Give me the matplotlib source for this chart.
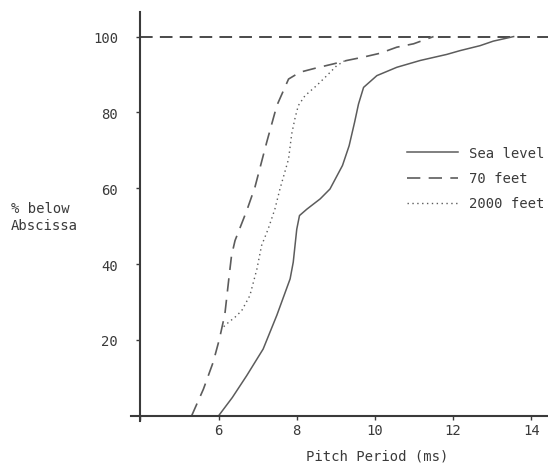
import matplotlib
matplotlib.use("Agg")
import matplotlib.pyplot as plt

# cumulative distribution of pitch period, three conditions
sea_x = [6.00, 6.35, 6.72, 7.14, 7.49, 7.83, 7.91, 8.00, 8.07, 8.26, 8.60, 8.85,
         9.17, 9.34, 9.48, 9.58, 9.71, 10.05, 10.56, 11.16, 11.84, 12.18, 12.69,
         13.03, 13.55]
sea_y = [0, 4.8, 10.6, 17.6, 26.5, 36.1, 40.5, 49.2, 52.8, 54.5, 57.2, 59.8,
         66.0, 71.2, 77.4, 82.2, 86.6, 89.7, 91.9, 93.7, 95.3, 96.3, 97.6,
         98.8, 100]

ft70_x = [5.31, 5.61, 5.86, 6.02, 6.16, 6.27, 6.33, 6.42, 6.72, 6.93, 7.23, 7.49,
          7.79, 8.08, 8.49, 8.94, 9.28, 9.71, 10.13, 10.56, 10.99, 11.50]
ft70_y = [0, 7.0, 14.1, 20.2, 26.8, 36.9, 42.2, 46.2, 54.1, 60.3, 72.1, 81.8,
          88.8, 90.6, 91.7, 92.8, 93.7, 94.6, 95.6, 97.2, 98.1, 100]

ft2000_x = [6.13, 6.25, 6.42, 6.59, 6.80, 6.98, 7.10, 7.27, 7.44, 7.57, 7.79,
            7.87, 7.96, 8.04, 8.21, 8.51, 8.77, 9.02, 9.24]
ft2000_y = [23.5, 24.6, 26.0, 27.7, 31.7, 38.7, 44.9, 49.3, 54.5, 59.8, 67.7,
            74.3, 78.7, 81.8, 84.4, 87.1, 89.7, 92.3, 93.7]

full = 100
xticks = [4, 6, 8, 10, 12, 14]
xtick_labels = ["", "6", "8", "10", "12", "14"]
yticks = [20, 40, 60, 80, 100]

plt.rcParams["font.family"] = "DejaVu Sans Mono"
ink = "#3a3a3a"
curve = "#5c5c5c"

fig = plt.figure(figsize=(5.48, 4.64), dpi=100)
ax = fig.add_axes([0.2385, 0.0912, 0.7615, 0.8801])
ax.set_xlim(3.75, 14.43)
ax.set_ylim(-1.3, 106.4)

ax.hlines(full, 4, 14.43, color=ink, lw=1.3, linestyle=(0, (7, 4)))
ax.plot(sea_x, sea_y, color=curve, lw=1.1, label="Sea level")
ax.plot(ft70_x, ft70_y, color=curve, lw=1.2, linestyle=(0, (8, 5)), label="70 feet")
ax.plot(ft2000_x, ft2000_y, color=curve, lw=1.0, linestyle=(0, (1, 2.5)),
        label="2000 feet")

for side in ("top", "right"):
    ax.spines[side].set_visible(False)
ax.spines["left"].set_position(("data", 4))
ax.spines["bottom"].set_position(("data", 0))
for side in ("left", "bottom"):
    ax.spines[side].set_color(ink)
    ax.spines[side].set_linewidth(1.5)

ax.set_xticks(xticks)
ax.set_xticklabels(xtick_labels)
ax.set_yticks(yticks)
ax.tick_params(axis="x", direction="out", length=3, width=1, color=ink,
               labelsize=10, labelcolor=ink, pad=2)
ax.tick_params(axis="y", direction="out", length=3, width=1, color=ink,
               labelsize=10, labelcolor=ink, pad=13)

ax.set_xlabel("Pitch Period (ms)", fontsize=10, color=ink, va="center")
ax.xaxis.set_label_coords(0.59, -0.086)
ax.set_ylabel("% below\nAbscissa", fontsize=10, color=ink, rotation=0,
              ha="left", va="center", linespacing=1.25)
ax.yaxis.set_label_coords(-0.288, 0.5)

ax.legend(loc="upper left", bbox_to_anchor=(0.662, 0.672), frameon=False,
          borderpad=0, borderaxespad=0, handlelength=3.7, handletextpad=0.8,
          labelspacing=0.8, prop={"size": 10}, labelcolor=ink)

fig.savefig("out.png", dpi=100)
